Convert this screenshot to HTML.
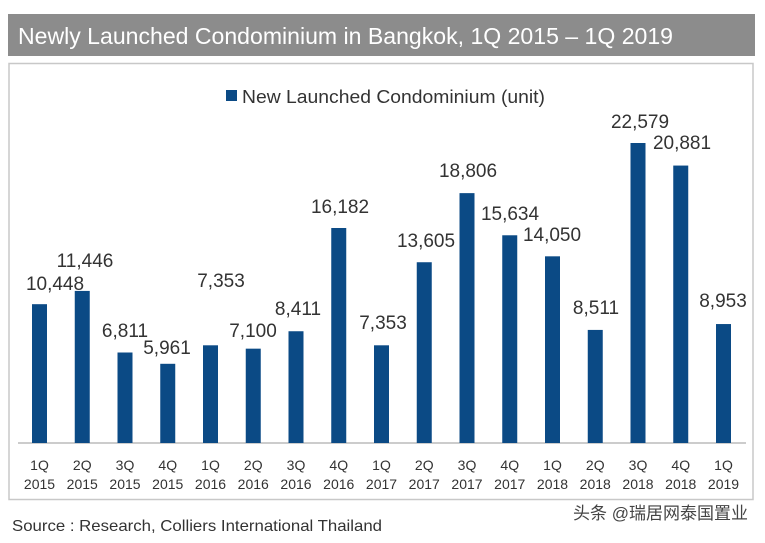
<!DOCTYPE html>
<html><head><meta charset="utf-8"><style>
body{margin:0;width:765px;height:538px;background:#fff;overflow:hidden;font-family:"Liberation Sans","Noto Sans CJK SC",sans-serif}
</style></head><body>
<svg width="765" height="538" xmlns="http://www.w3.org/2000/svg" font-family="Liberation Sans, Noto Sans CJK SC, sans-serif">
<rect x="8" y="14" width="747" height="42" fill="#8c8c8c"/>
<text x="18" y="44" font-size="23" fill="#fff" textLength="655" lengthAdjust="spacingAndGlyphs">Newly Launched Condominium in Bangkok, 1Q 2015 – 1Q 2019</text>
<rect x="9" y="63.5" width="744" height="436" fill="#fff" stroke="#c8c8c8" stroke-width="1.5"/>
<rect x="226" y="90" width="11" height="11" fill="#0b4a85"/>
<text x="242" y="103" font-size="18" fill="#333" textLength="303" lengthAdjust="spacingAndGlyphs">New Launched Condominium (unit)</text>
<line x1="18" y1="443" x2="746" y2="443" stroke="#999" stroke-width="1"/>
<g id="bars"></g>
<text x="12" y="531" font-size="16" fill="#333" textLength="370" lengthAdjust="spacingAndGlyphs">Source : Research, Colliers International Thailand</text>
<text x="748" y="519" font-size="17" fill="#444" text-anchor="end">头条 @瑞居网泰国置业</text>
</svg>
<script>
var v=[10448,11446,6811,5961,7353,7100,8411,16182,7353,13605,18806,15634,14050,8511,22579,20881,8953];
var lx=[55,85,125,167,221,253,298,340,383,426,468,510,552,596,640,682,723];
var ly=[290,267,337,354,287,337,315,213,329,247,177,220,241,314,128,149,307];
var q=["1Q","2Q","3Q","4Q"];var g=document.getElementById("bars");var s="";
for(var i=0;i<17;i++){var x=32+42.75*i;var h=v[i]*300/22579;var t=443-h;
s+='<rect x="'+x+'" y="'+t+'" width="15" height="'+h+'" fill="#0b4a85"/>';
s+='<text x="'+lx[i]+'" y="'+ly[i]+'" font-size="19" fill="#333" text-anchor="middle">'+v[i].toLocaleString("en-US")+'</text>';
s+='<text x="'+(x+7.5)+'" y="470" font-size="14" fill="#333" text-anchor="middle">'+q[i%4]+'</text>';
s+='<text x="'+(x+7.5)+'" y="489" font-size="14" fill="#333" text-anchor="middle">'+(2015+Math.floor(i/4))+'</text>';}
g.innerHTML=s;
</script>
</body></html>
